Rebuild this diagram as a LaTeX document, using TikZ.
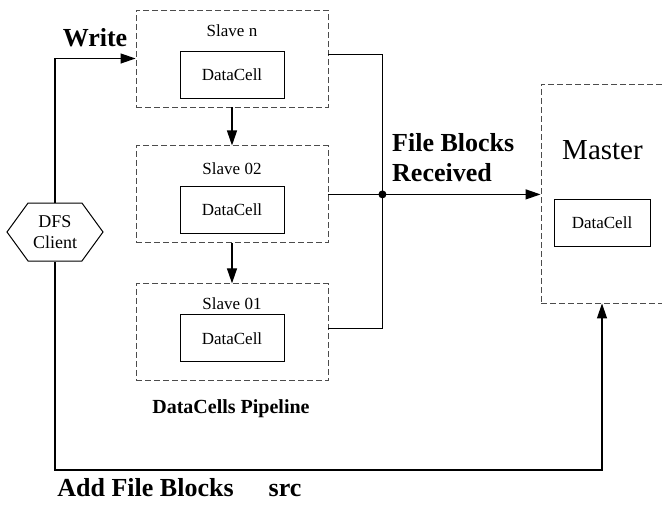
\documentclass[tikz,border=0pt]{standalone}
\usepackage{fontspec}
\setmainfont{Liberation Serif}
\usetikzlibrary{positioning,calc,arrows.meta,shapes.symbols}

\begin{document}
\begin{tikzpicture}[x=1pt, y=-1pt,
  slave/.style={draw=black!70, dash pattern=on 6pt off 3pt, line width=0.9pt, minimum width=192pt, minimum height=97pt, inner sep=0pt},
  cell/.style={draw, line width=1pt, minimum width=104pt, minimum height=47pt, inner sep=0pt, font=\fontsize{17}{20}\selectfont},
  title/.style={inner sep=0pt, font=\fontsize{17}{20}\selectfont},
  bigtext/.style={inner sep=0pt, font=\fontsize{26}{30}\selectfont\bfseries},
  client/.style={draw, line width=1pt, shape=signal, signal to=west and east, signal pointer angle=108, minimum width=96pt, minimum height=58pt, inner sep=0pt, align=center, font=\fontsize{18}{21}\selectfont},
  link/.style={line width=1.2pt},
  arr/.style={link, -{Triangle[length=15pt,width=10pt]}}]
\path[use as bounding box, clip] (0,0) rectangle (662,504);

% the pipeline of slaves
\node[slave] (slaveN) at (232,58.5) {};
\node[slave, below=38pt of slaveN] (slave02) {};
\node[slave, below=40pt of slave02] (slave01) {};
\node[title] (titleN) at ($(slaveN.north)+(0,21)$) {Slave n};
\node[cell] (cellN) at ($(slaveN)+(0,16)$) {DataCell};
\node[title] (title02) at ($(slave02.north)+(0,23)$) {Slave 02};
\node[cell] (cell02) at ($(slave02)+(0,15.5)$) {DataCell};
\node[title] (title01) at ($(slave01.north)+(0,20)$) {Slave 01};
\node[cell] (cell01) at ($(slave01)+(0,6)$) {DataCell};
\draw[arr] (slaveN) -- (slave02);
\draw[arr] (slave02) -- (slave01);
\node[font=\fontsize{20}{24}\selectfont\bfseries, inner sep=0pt] (pipeline) at (231,409) {DataCells Pipeline};

% master
\node[slave, minimum width=140pt, minimum height=219pt] (master) at (611,193.5) {};
\node[inner sep=0pt, font=\fontsize{29}{34}\selectfont] (mastertitle) at (602.5,150) {Master};
\node[cell, minimum width=96pt] (mastercell) at (602,222.5) {DataCell};

% client
\node[client] (client) at (55,232) {DFS\\Client};
\node[bigtext] (write) at (95,38) {Write};
\draw[arr] (client.north) |- (slaveN.west);

% blocks collected into the master
\coordinate (hub) at ($(slave02.east)+(54,0)$);
\draw[link] ([yshift=4pt]slaveN.east) -| (hub) |- ([yshift=4pt]slave01.east);
\draw[link] (slave02.east) -- (hub);
\fill (hub) circle (4pt);
\draw[arr] (hub) -- (hub -| master.west);
\node[bigtext, anchor=west, align=left] (received) at (392,158) {File Blocks\\Received};

% add file blocks
\coordinate (src) at (602,470);
\draw[arr] (client.south) |- (src) -- (src |- master.south);
\node[bigtext, anchor=base, text depth=0pt] (addblocks) at (145.5,496) {Add File Blocks};
\node[bigtext, anchor=base, text depth=0pt] (srctext) at (285,496) {src};
\end{tikzpicture}
\end{document}
